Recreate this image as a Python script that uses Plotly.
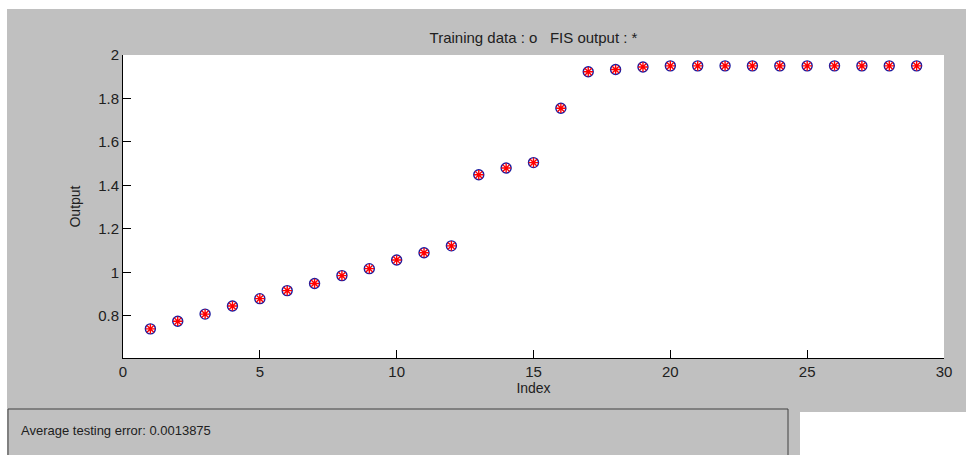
import plotly.graph_objects as go

index = list(range(1, 30))
training = [0.740, 0.775, 0.808, 0.845, 0.879, 0.916, 0.949, 0.985, 1.017, 1.057,
            1.090, 1.122, 1.449, 1.480, 1.505, 1.755, 1.923, 1.933, 1.945, 1.950,
            1.950, 1.950, 1.950, 1.950, 1.950, 1.950, 1.950, 1.950, 1.950]
fis_output = list(training)

x_ticks = [0, 5, 10, 15, 20, 25, 30]
y_ticks = [0.8, 1.0, 1.2, 1.4, 1.6, 1.8, 2.0]
y_tick_text = ["0.8", "1", "1.2", "1.4", "1.6", "1.8", "2"]

W, H = 966, 455
L, R, T, B = 123, 944, 55, 358
GREY = "#c0c0c0"

def px(xp):
    return (xp - L) / (R - L)

def py(yp):
    return (B - yp) / (B - T)

fig = go.Figure()
fig.add_trace(go.Scatter(x=index, y=training, mode="markers",
                         marker=dict(symbol="circle-open", size=10, color="#1a1aa0",
                                     line=dict(width=1.4, color="#1a1aa0")),
                         hoverinfo="skip"))
fig.add_trace(go.Scatter(x=index, y=fis_output, mode="markers",
                         marker=dict(symbol="asterisk-open", size=8, color="#ff0000",
                                     line=dict(width=1.4, color="#ff0000")),
                         hoverinfo="skip"))

font = "Liberation Sans, Arial, sans-serif"
fig.update_layout(
    width=W, height=H,
    margin=dict(l=L, r=W - R, t=T, b=H - B, pad=0),
    paper_bgcolor=GREY, plot_bgcolor="white",
    showlegend=False,
    font=dict(family=font, size=15, color="#202020"),
    title=dict(text="Training data : o\u00a0\u00a0\u00a0FIS output : *", x=0.5 * (L + R) / W,
               xanchor="center", y=1 - 38 / H, yanchor="middle",
               font=dict(size=15, color="#202020")),
    xaxis=dict(range=[0, 30], tickvals=x_ticks, ticks="inside", ticklen=8, tickcolor="black",
               showline=True, linecolor="black", linewidth=1, showgrid=False, zeroline=False,
               title=dict(text="Index", standoff=4, font=dict(size=14)), mirror=False),
    yaxis=dict(range=[0.606, 2.0], tickvals=y_ticks, ticktext=y_tick_text, ticks="inside",
               ticklen=8, tickcolor="black", showline=True, linecolor="black", linewidth=1,
               showgrid=False, zeroline=False, title=dict(text="Output", standoff=14, font=dict(size=14))),
    shapes=[
        dict(type="rect", xref="paper", yref="paper", x0=px(0), x1=px(W), y0=py(0), y1=py(9),
             fillcolor="white", line=dict(width=0), layer="above"),
        dict(type="rect", xref="paper", yref="paper", x0=px(0), x1=px(7), y0=py(0), y1=py(H),
             fillcolor="white", line=dict(width=0), layer="above"),
        dict(type="rect", xref="paper", yref="paper", x0=px(800), x1=px(W + 20), y0=py(412), y1=py(H + 20),
             fillcolor="white", line=dict(width=0), layer="above"),
        dict(type="rect", xref="paper", yref="paper", x0=px(8), x1=px(788), y0=py(409), y1=py(H + 20),
             fillcolor=GREY, line=dict(width=1, color="#404040"), layer="above"),
    ],
    annotations=[
        dict(text="Average testing error: 0.0013875", xref="paper", yref="paper",
             x=px(19), y=py(430), xanchor="left", yanchor="middle", showarrow=False,
             font=dict(size=13, color="#202020")),
    ],
)

fig.write_html("out.html", config={"displayModeBar": False},
               post_script="document.body.style.margin='0';document.body.style.overflow='hidden';")
